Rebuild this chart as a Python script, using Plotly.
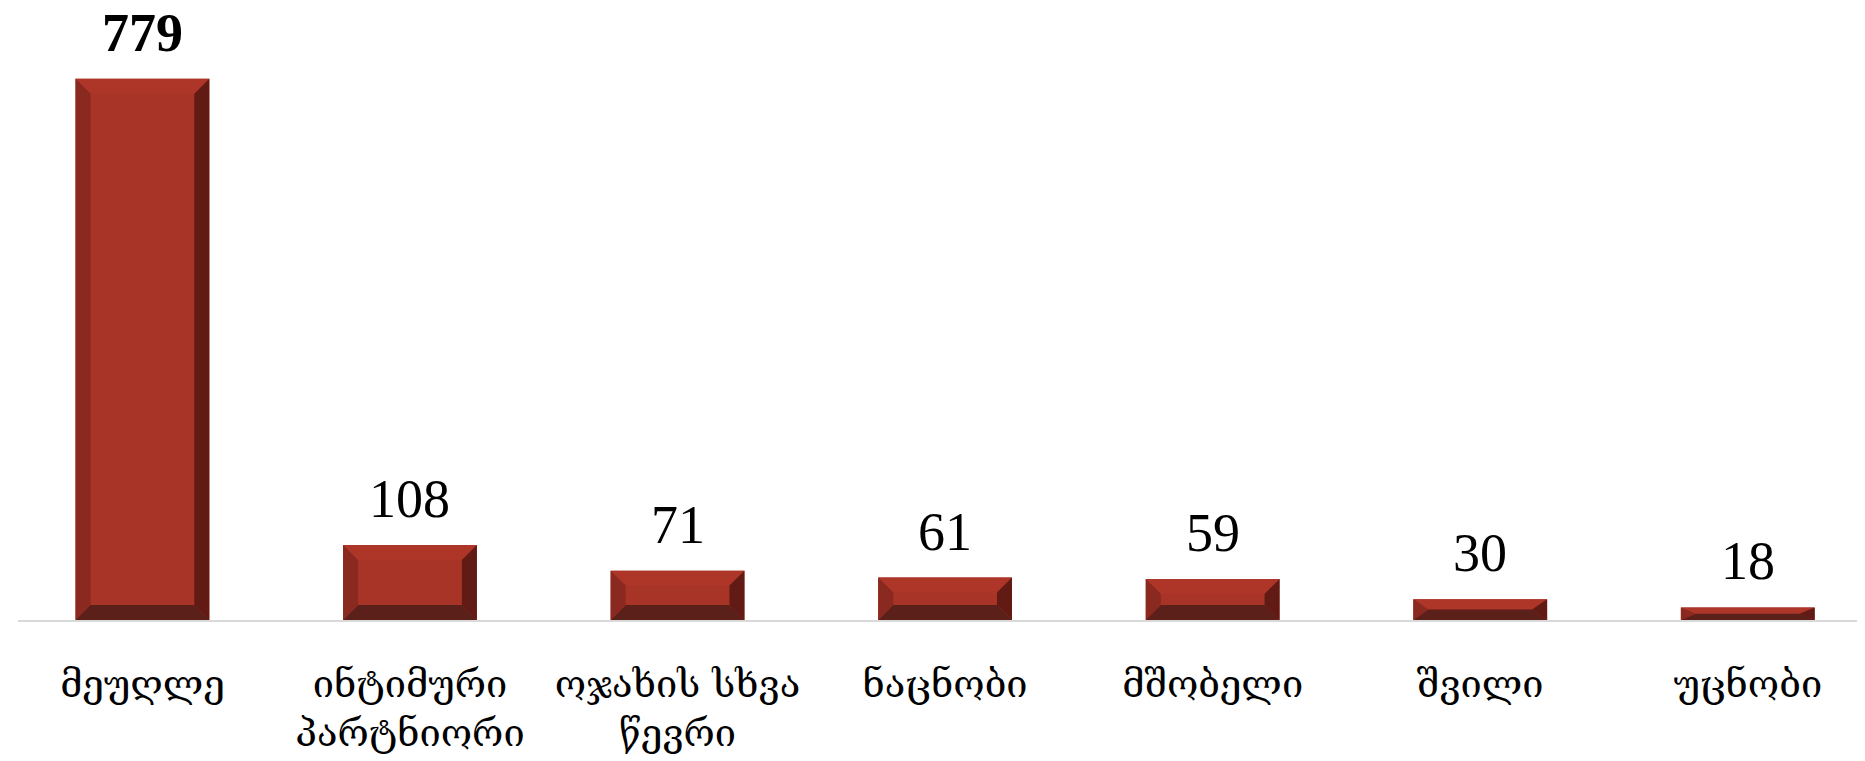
import plotly.graph_objects as go

categories = ["მეუღლე", "ინტიმური<br>პარტნიორი", "ოჯახის სხვა<br>წევრი", "ნაცნობი", "მშობელი", "შვილი", "უცნობი"]
values = [779, 108, 71, 61, 59, 30, 18]

FACE = "#A83428"
TOP = "#AD3629"
LEFT = "#8A291F"
RIGHT = "#621A14"
BOTTOM = "#5B2019"

W = 0.5
BX = 0.056
BY = 21.5

x = list(range(len(categories)))
fig = go.Figure()
fig.add_trace(go.Bar(x=x, y=values, width=W, marker=dict(color=FACE, line=dict(width=0)),
                     hoverinfo="skip"))

def path(pts):
    return "M " + " L ".join(f"{a},{b}" for a, b in pts) + " Z"

shapes = []
for i, v in zip(x, values):
    x0, x1 = i - W / 2, i + W / 2
    by = min(BY, v / 2)
    shapes.append(dict(type="path", xref="x", yref="y", layer="above", line=dict(width=0), fillcolor=TOP,
                       path=path([(x0, v), (x1, v), (x1 - BX, v - by), (x0 + BX, v - by)])))
    shapes.append(dict(type="path", xref="x", yref="y", layer="above", line=dict(width=0), fillcolor=BOTTOM,
                       path=path([(x0, 0), (x1, 0), (x1 - BX, by), (x0 + BX, by)])))
    shapes.append(dict(type="path", xref="x", yref="y", layer="above", line=dict(width=0), fillcolor=LEFT,
                       path=path([(x0, 0), (x0 + BX, by), (x0 + BX, v - by), (x0, v)])))
    shapes.append(dict(type="path", xref="x", yref="y", layer="above", line=dict(width=0), fillcolor=RIGHT,
                       path=path([(x1, 0), (x1 - BX, by), (x1 - BX, v - by), (x1, v)])))

annotations = []
for i, v in zip(x, values):
    annotations.append(dict(x=i, y=v, xref="x", yref="y", text=str(v), showarrow=False,
                            yanchor="bottom", yshift=14,
                            font=dict(family="Liberation Serif", size=54, color="#000000",
                                      weight="bold" if v == max(values) else "normal")))

fig.update_layout(
    width=1865, height=761,
    margin=dict(l=10, r=0, t=20, b=149),
    paper_bgcolor="white", plot_bgcolor="white",
    showlegend=False,
    shapes=shapes,
    annotations=annotations,
    xaxis=dict(range=[-0.465, 6.468], tickmode="array", tickvals=x, ticktext=categories,
               showgrid=False, zeroline=False, showline=True, linecolor="#D9D9D9", linewidth=2,
               ticks="", ticklabelstandoff=29,
               tickfont=dict(family="DejaVu Serif", size=38, color="#000000")),
    yaxis=dict(range=[0, 852], visible=False, showgrid=False, zeroline=False),
)

fig.write_html("out.html")
